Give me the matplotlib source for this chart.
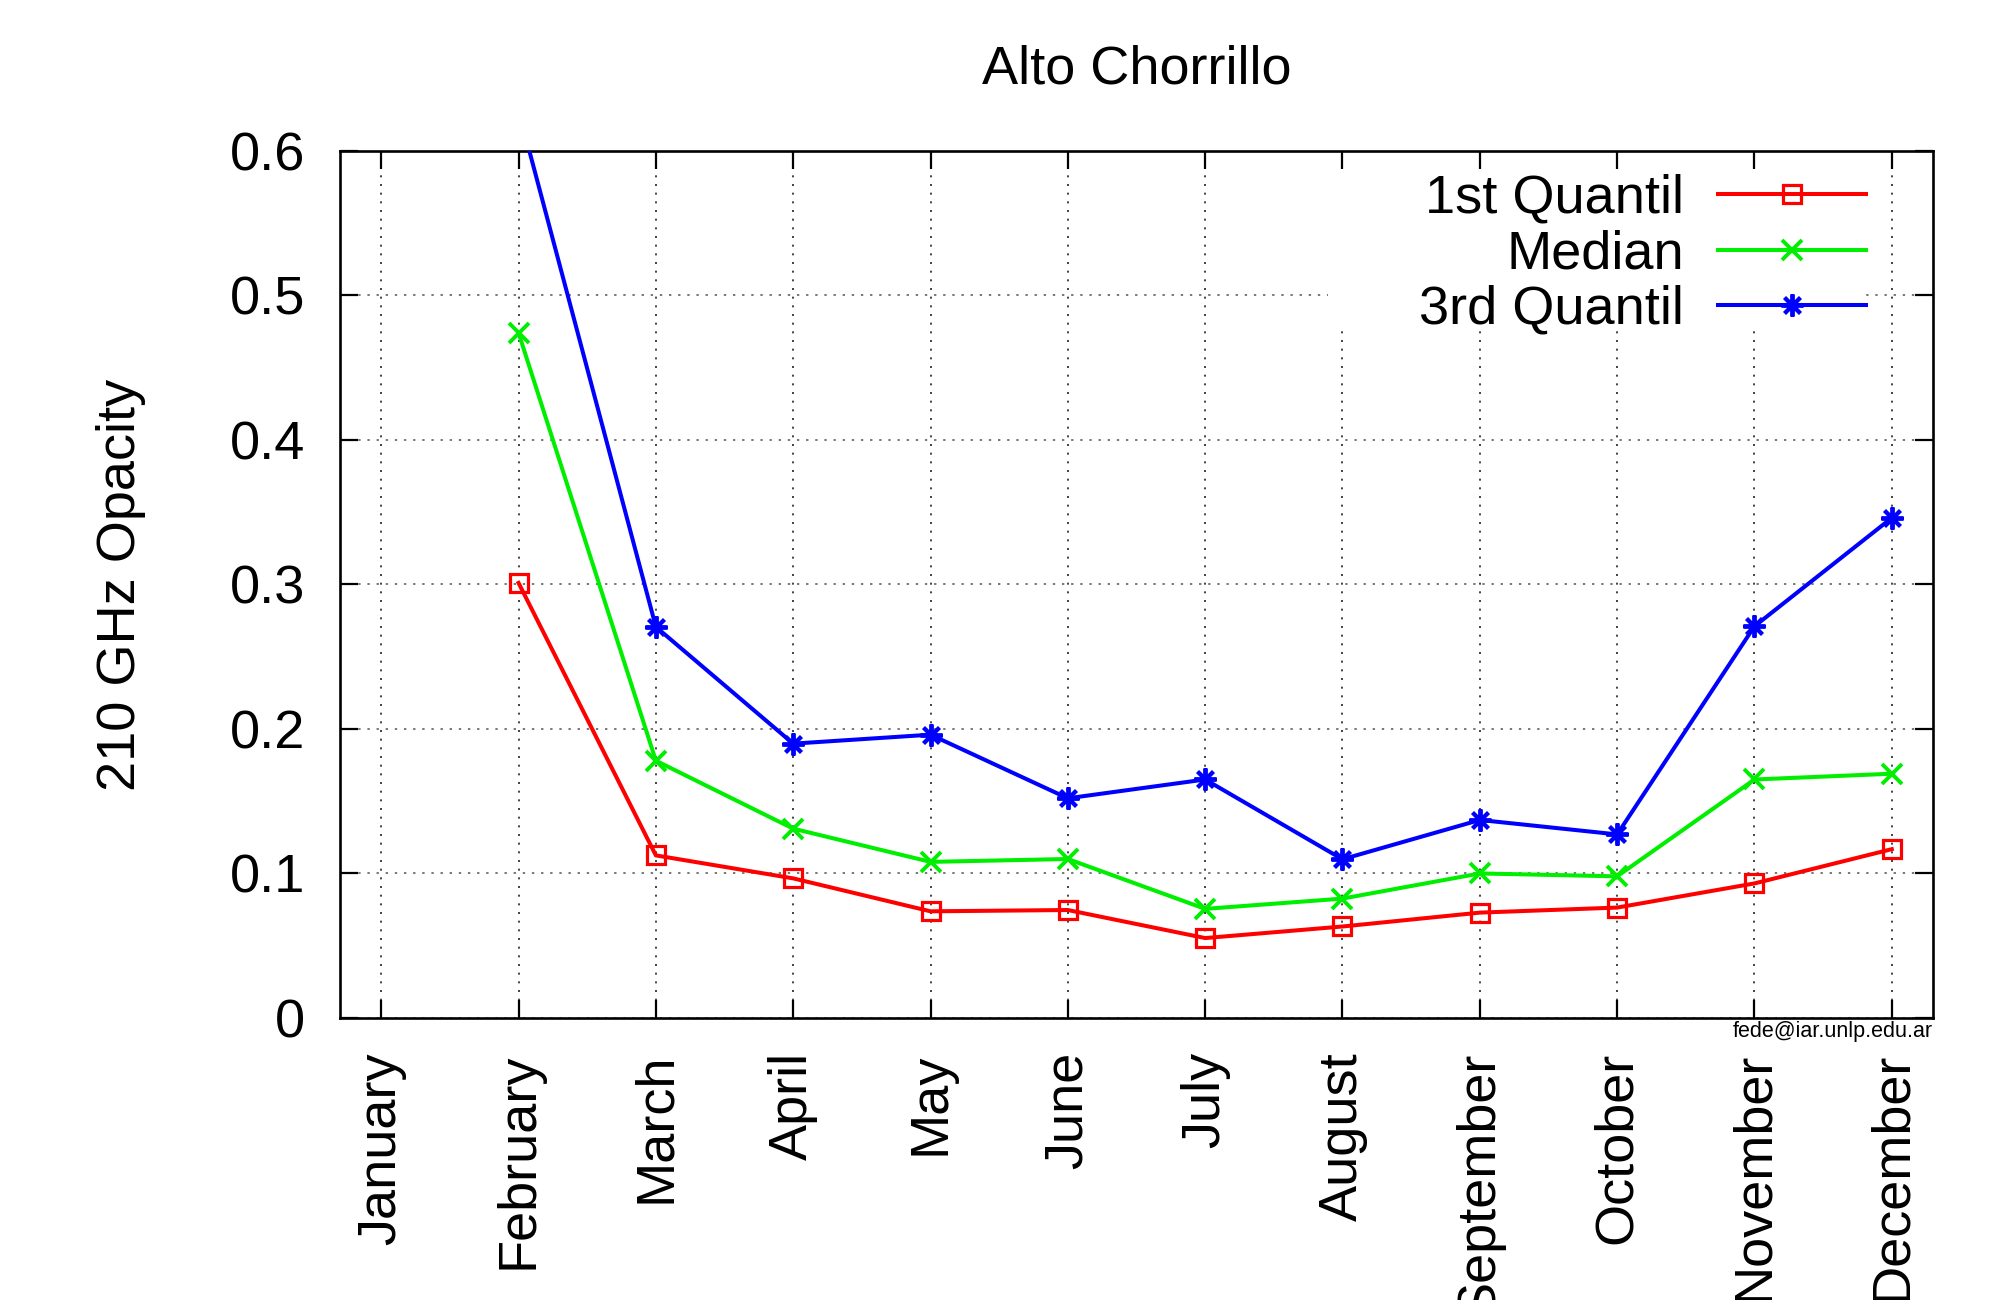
import numpy as np
import matplotlib
matplotlib.use("Agg")
import matplotlib.pyplot as plt
from matplotlib.patches import Rectangle
from matplotlib.transforms import ScaledTranslation

months = ["January", "February", "March", "April", "May", "June", "July",
          "August", "September", "October", "November", "December"]
q1 = [np.nan, 0.301, 0.1125, 0.0966, 0.0738, 0.0747, 0.0553, 0.0633, 0.0729, 0.0764, 0.0931, 0.1168]
median = [np.nan, 0.474, 0.178, 0.131, 0.108, 0.110, 0.0755, 0.0826, 0.100, 0.098, 0.165, 0.169]
q3 = [np.nan, 0.628, 0.2706, 0.1898, 0.196, 0.152, 0.165, 0.1098, 0.137, 0.127, 0.271, 0.346]
series_labels = ["1st Quantil", "Median", "3rd Quantil"]
yticks = [0, 0.1, 0.2, 0.3, 0.4, 0.5, 0.6]
ytick_labels = ["0", "0.1", "0.2", "0.3", "0.4", "0.5", "0.6"]

plt.rcParams['font.family'] = ['Liberation Sans', 'DejaVu Sans']
FS = 39

fig = plt.figure(figsize=(19.93, 13.0), dpi=100)
ax = fig.add_axes([340/1993, 1-1018/1300, (1933-340)/1993, (1018-150.7)/1300])

x = np.arange(1, 13)
styles = [
    dict(color="#ff0000", marker="s", markersize=12.5, markerfacecolor="none",
         markeredgecolor="#ff0000", markeredgewidth=2.3),
    dict(color="#00ee00", marker="x", markersize=14.5, markeredgewidth=2.8),
    dict(color="#0000ff", marker=(8, 2, 0), markersize=16, markeredgewidth=2.8),
]
LW = 2.9
data = [q1, median, q3]
for d, st in zip(data, styles):
    ax.plot(x, d, linewidth=LW, zorder=3, **st)

ax.set_xlim(0.7, 12.3)
ax.set_ylim(0, 0.6)
ax.set_xticks(x)
ax.set_xticklabels(months, rotation=90, fontsize=FS, ha="center", va="top")
ax.set_yticks(yticks)
ax.set_yticklabels(ytick_labels, fontsize=FS)
ax.tick_params(axis="both", direction="in", length=13, width=1.6,
               top=True, right=True, pad=24.5)
ax.tick_params(axis="y", pad=25)
for s in ax.spines.values():
    s.set_linewidth(1.9)

ax.set_axisbelow(True)
ax.grid(True, axis="x", color="#222222", linestyle=(0, (1.2, 4)), linewidth=1.2)
ax.grid(True, axis="y", color="#777777", linestyle=(0, (1.2, 3.5)), linewidth=1.4)

# legend background (opaque key area)
ax.add_patch(Rectangle((0.620, 0.793), 0.957-0.620, 0.978-0.793,
                       transform=ax.transAxes, facecolor="white",
                       edgecolor="none", zorder=1))

# manual gnuplot-style key
rows = [0.9495, 0.885, 0.822]
text_off = ScaledTranslation(0, -18.3/100, fig.dpi_scale_trans)
for lab, st, yr in zip(series_labels, styles, rows):
    ax.plot([0.865, 0.9115, 0.958], [yr, yr, yr], transform=ax.transAxes,
            linewidth=LW, markevery=[1], clip_on=False, zorder=4, **st)
    ax.text(0.8437, yr, lab, transform=ax.transAxes + text_off, ha="right",
            va="baseline", fontsize=FS, zorder=4)

fig.text(1136.5/1993, 1-69/1300, "Alto Chorrillo", ha="center", va="center", fontsize=FS)
fig.text(121/1993, 1-585/1300, "210 GHz Opacity", ha="center", va="center",
         rotation=90, fontsize=FS)
fig.text(1933/1993, 1-1021/1300, "fede@iar.unlp.edu.ar", ha="right", va="top", fontsize=15.5)

fig.savefig("out.png", dpi=100)
